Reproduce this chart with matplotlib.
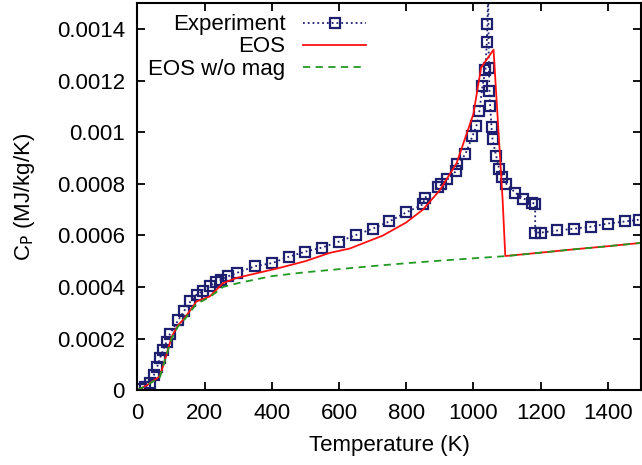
import matplotlib
matplotlib.use("Agg")
import matplotlib.pyplot as plt
from matplotlib.ticker import FuncFormatter

plt.rcParams['font.family'] = ['Liberation Sans', 'DejaVu Sans']

# experiment
exp_T = [12, 22, 37, 49, 59, 67, 77, 87, 97, 121, 138, 158, 176, 196, 215, 233, 250, 270, 295,
         349, 402, 450, 500, 550, 600, 650, 700, 750, 800, 850, 855, 896, 905, 923, 949, 952,
         976, 997, 1009, 1018, 1027, 1036, 1040, 1042, 1044, 1046, 1048, 1050, 1054, 1057,
         1068, 1077, 1086, 1098, 1125, 1149, 1175, 1184, 1184, 1202, 1250, 1300, 1350, 1401,
         1452, 1494]
exp_cp = [0.000003, 0.000013, 0.000026, 0.000058, 0.000091, 0.000123, 0.000156, 0.000188,
          0.000218, 0.00027, 0.000305, 0.000344, 0.00037, 0.000385, 0.000402, 0.000421,
          0.000428, 0.000441, 0.000454, 0.00048, 0.000493, 0.000517, 0.000537, 0.000553,
          0.000576, 0.000601, 0.000626, 0.000654, 0.000689, 0.00072, 0.000745, 0.000786,
          0.000798, 0.000817, 0.00085, 0.000875, 0.000914, 0.000984, 0.001023, 0.001082,
          0.001179, 0.00124, 0.00135, 0.00142, 0.00158, 0.00125, 0.00116, 0.0011, 0.00102,
          0.000973, 0.000907, 0.000856, 0.000825, 0.0008, 0.000765, 0.000743, 0.000727,
          0.000722, 0.000611, 0.000611, 0.000619, 0.000626, 0.000634, 0.000646, 0.000654,
          0.000661]

# EOS with magnetic contribution
eos_T = [0, 30, 67, 85, 102, 120, 141, 176, 215, 255, 295, 423, 500, 572, 632, 730, 800,
         850, 900, 950, 1000, 1023, 1060, 1087, 1095, 1200, 1300, 1400, 1500]
eos_cp = [0.0, 0.00002, 0.000054, 0.00013, 0.000207, 0.00025, 0.00028, 0.000344, 0.000363,
          0.000415, 0.000435, 0.000474, 0.0005, 0.000532, 0.000549, 0.000599, 0.00065,
          0.0007, 0.000775, 0.00088, 0.00107, 0.00125, 0.00132, 0.00074, 0.00052,
          0.000533, 0.000546, 0.000558, 0.000571]

# EOS without magnetic contribution
nomag_T = [0, 30, 67, 85, 102, 120, 141, 176, 215, 255, 300, 400, 500, 600, 700, 800, 900,
           1000, 1100, 1200, 1300, 1400, 1500]
nomag_cp = [0.0, 0.00002, 0.00005, 0.00013, 0.0002, 0.000245, 0.000275, 0.000335, 0.00036,
            0.0004, 0.000415, 0.000442, 0.000457, 0.000469, 0.000481, 0.000492, 0.000502,
            0.000511, 0.00052, 0.000533, 0.000546, 0.000558, 0.000571]

fig = plt.figure(figsize=(6.42, 4.65), dpi=100)
ax = fig.add_axes([0.214, 0.161, 0.785, 0.832])

ax.plot(exp_T, exp_cp, linestyle=':', color='#1f1f70', marker='s', markersize=7.5,
        markerfacecolor='none', markeredgewidth=1.6, linewidth=1.3, label='Experiment')
ax.plot(eos_T, eos_cp, color='#ff1010', linewidth=1.3, label='EOS')
ax.plot(nomag_T, nomag_cp, color='#229922', linestyle=(0, (4, 3)), linewidth=1.3,
        label='EOS w/o mag')

ax.set_xlim(0, 1500)
ax.set_ylim(0, 0.0015)
ax.set_xticks(range(0, 1500, 200))
ax.set_yticks([0, 0.0002, 0.0004, 0.0006, 0.0008, 0.001, 0.0012, 0.0014])
ax.yaxis.set_major_formatter(FuncFormatter(lambda v, p: '%g' % round(v, 6)))
ax.tick_params(direction='in', length=6, width=1.3, top=True, right=True, labelsize=16, pad=9)
for s in ax.spines.values():
    s.set_linewidth(1.5)

ax.set_xlabel('Temperature (K)', fontsize=16, labelpad=8)
ax.set_ylabel(r'C$_\mathrm{P}$ (MJ/kg/K)', fontsize=16, labelpad=14)

ax.legend(loc='upper left', frameon=False, markerfirst=False, numpoints=1, fontsize=16,
          handlelength=2.8, labelspacing=0.05, borderaxespad=0.1, alignment='right')

fig.savefig('out.png', dpi=100)
